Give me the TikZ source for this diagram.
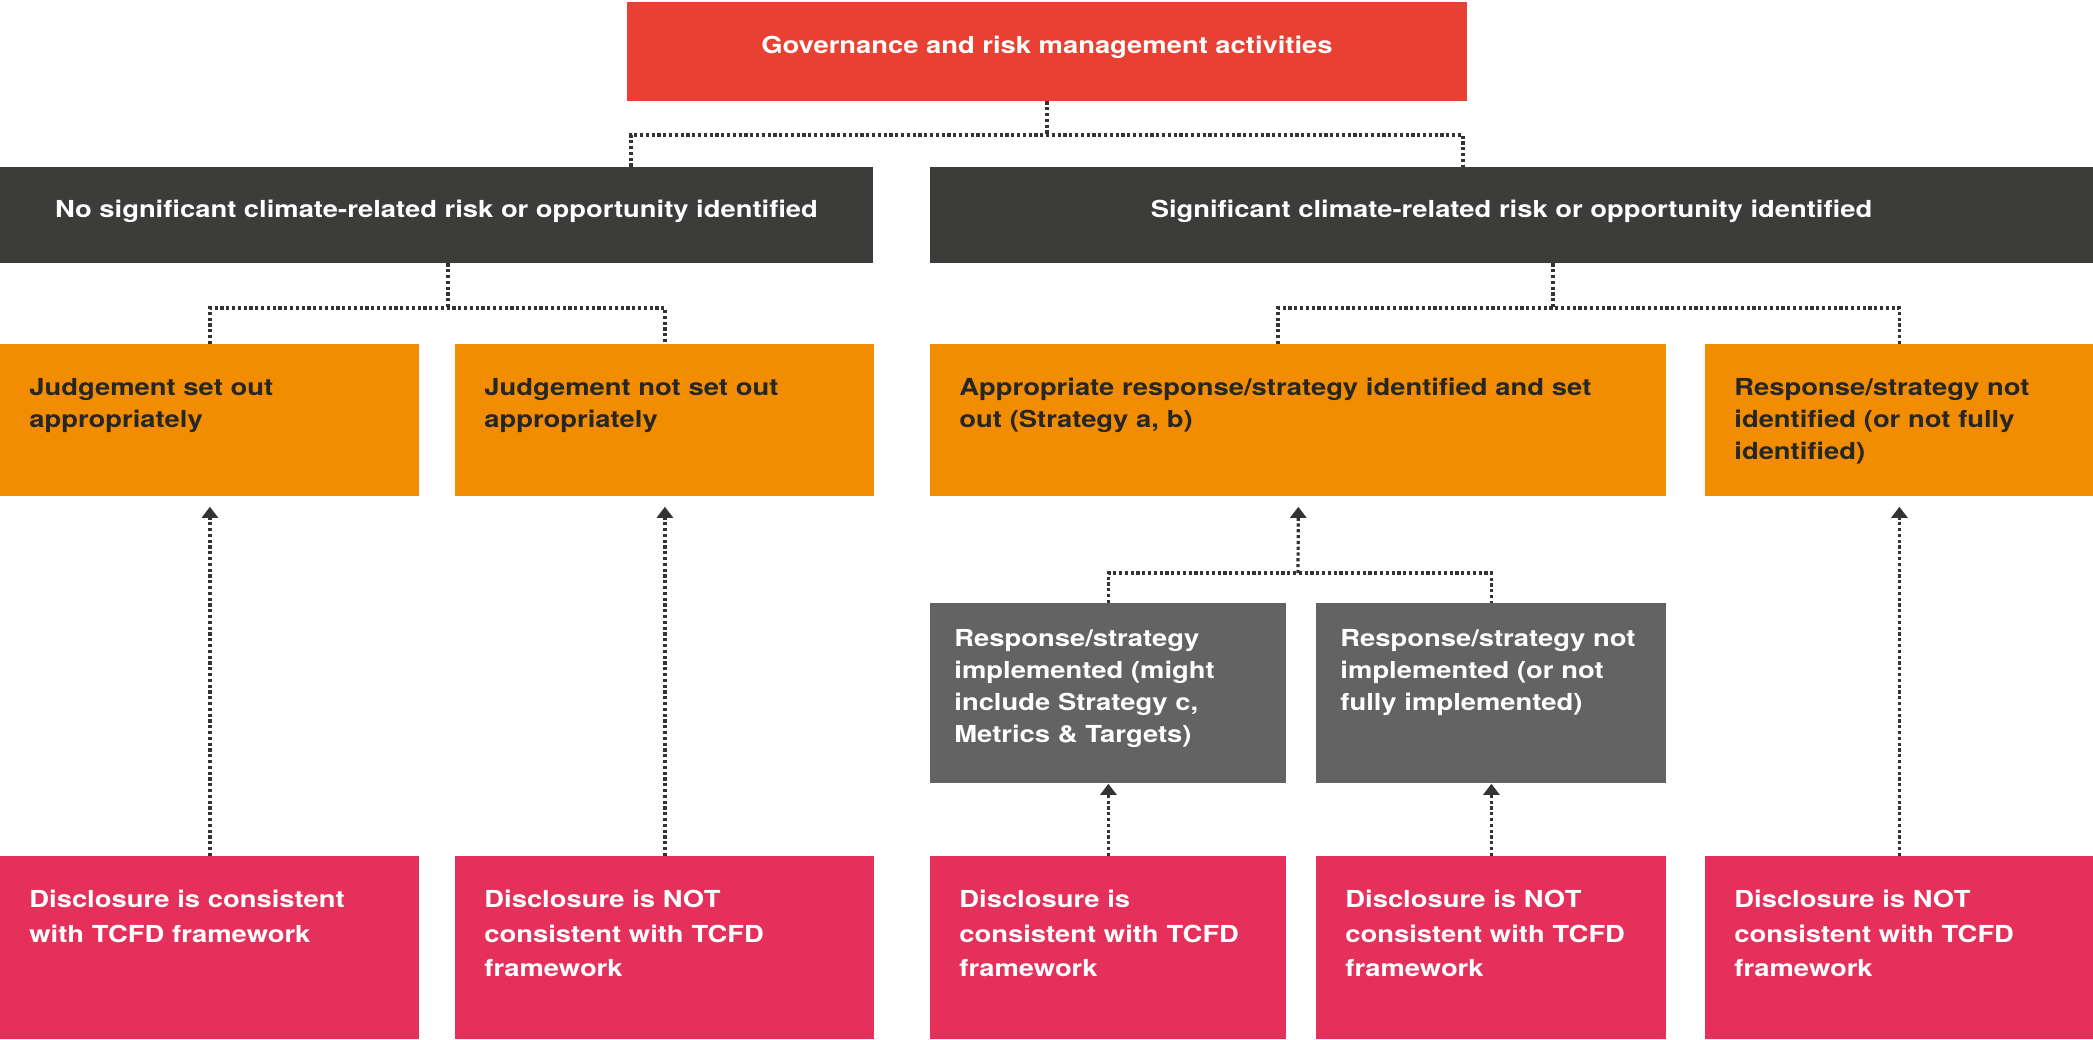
\documentclass[tikz,border=0pt]{standalone}
\usepackage{fontspec}
\setmainfont{TeX Gyre Heros}[FakeStretch=1.17]
\usetikzlibrary{arrows.meta}

\definecolor{govred}{HTML}{E84033}
\definecolor{riskdark}{HTML}{3C3C3B}
\definecolor{choiceorange}{HTML}{F28C00}
\definecolor{implgray}{HTML}{636363}
\definecolor{verdictpink}{HTML}{E6305C}
\definecolor{textdark}{HTML}{262626}
\definecolor{linkgray}{HTML}{333333}

\begin{document}
\begin{tikzpicture}[x=0.5pt,y=-0.5pt]

% one unit = half a point, y runs downwards
\useasboundingbox (0,0) rectangle (2093,1039);

% node style definition
\tikzstyle{head} = [
	anchor=center, inner sep=0pt, text=white, align=center,
	text height=2pt, text depth=0pt,
	font=\bfseries\fontsize{11.7}{16}\selectfont ];
\tikzstyle{cell} = [
	anchor=north west, inner xsep=14.5pt, inner ysep=0pt, align=left,
	font=\bfseries\fontsize{11.7}{16}\selectfont ];
\tikzstyle{choice} = [cell, fill=choiceorange, text=textdark,
	text height=25.5pt, text depth=50.5pt];
\tikzstyle{impl} = [cell, fill=implgray, text=white, inner xsep=12pt,
	text height=21.5pt, text depth=68.5pt];
\tikzstyle{verdict} = [cell, fill=verdictpink, text=white,
	text height=25.75pt, text depth=65.75pt,
	font=\bfseries\fontsize{11.7}{17.25}\selectfont];
\tikzstyle{link} = [draw=linkgray, line width=1.6pt, dash pattern=on 1.6pt off 1.3pt];
\tikzstyle{up} = [link, -{Triangle[width=8pt,length=5.5pt]}];

% top of the tree
\node[head, fill=govred, minimum width=420pt, minimum height=49.5pt] (r0) at (1047,51.5)
	{Governance and risk management activities};

\node[head, fill=riskdark, minimum width=436.5pt, minimum height=48pt] (d0) at (436.5,215)
	{No significant climate-related risk or opportunity identified};
\node[head, fill=riskdark, minimum width=581.5pt, minimum height=48pt] (d1) at (1511.5,215)
	{Significant climate-related risk or opportunity identified};

% judgement / response row
\node[choice, text width=180.5pt] (o0) at (0,344) {Judgement set out\\appropriately};
\node[choice, text width=180.5pt] (o1) at (455,344) {Judgement not set out\\appropriately};
\node[choice, text width=339pt] (o2) at (930,344)
	{Appropriate response/strategy identified and set\\out (Strategy a, b)};
\node[choice, text width=165pt] (o3) at (1705,344)
	{Response/strategy not\\identified (or not fully\\identified)};

% implementation row
\node[impl, text width=154pt] (g0) at (930,603)
	{Response/strategy\\implemented (might\\include Strategy c,\\Metrics \& Targets)};
\node[impl, text width=151pt] (g1) at (1316,603)
	{Response/strategy not\\implemented (or not\\fully implemented)};

% disclosure row
\node[verdict, text width=180.5pt] (p0) at (0,856) {Disclosure is consistent\\with TCFD framework};
\node[verdict, text width=180.5pt] (p1) at (455,856) {Disclosure is NOT\\consistent with TCFD\\framework};
\node[verdict, text width=149pt] (p2) at (930,856) {Disclosure is\\consistent with TCFD\\framework};
\node[verdict, text width=146pt] (p3) at (1316,856) {Disclosure is NOT\\consistent with TCFD\\framework};
\node[verdict, text width=165pt] (p4) at (1705,856) {Disclosure is NOT\\consistent with TCFD\\framework};

% branch points
\coordinate (ta) at (631,135);
\coordinate (tb) at (1463,135);
\coordinate (ja) at (448,308);
\coordinate (jb) at (1553,308);
\coordinate (jc) at (1278,308);
\coordinate (jd) at (1298,573);

\draw[link] (r0.south) -- (r0.south |- ta);
\draw[link] (ta |- d0.north) -- (ta) -- (tb) -- (tb |- d1.north);

\draw[link] (ja |- d0.south) -- (ja);
\draw[link] (o0.north) |- (ja) -| (o1.north);

\draw[link] (jb |- d1.south) -- (jb);
\draw[link] (jc |- o2.north) |- (jb) -| (o3.north);

\draw[link] (g0.north) |- (jd) -| (g1.north);
\draw[up, shorten >=5pt] (jd) -- (o2.south);

% disclosures point back up
\draw[up, shorten >=5pt] (p0.north) -- (o0.south);
\draw[up, shorten >=5pt] (p1.north) -- (o1.south);
\draw[up] (p2.north) -- (g0.south);
\draw[up] (p3.north) -- (g1.south);
\draw[up, shorten >=5pt] (p4.north) -- (o3.south);

\end{tikzpicture}
\end{document}
